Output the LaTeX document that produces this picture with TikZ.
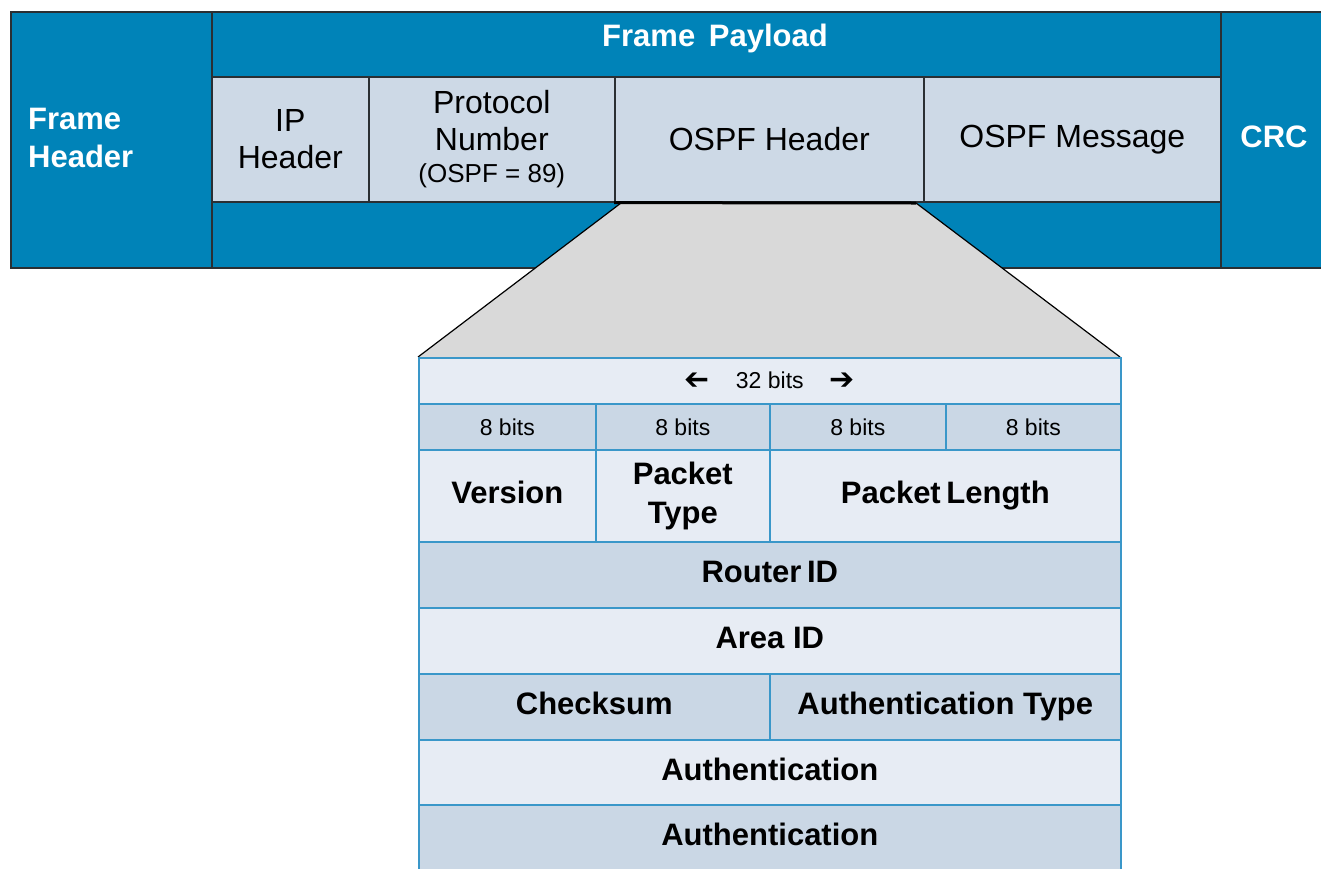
\documentclass[tikz,border=0pt]{standalone}
\usepackage{graphicx}
\usepackage{fontspec}
\setmainfont{Liberation Sans}
\newfontfamily\arrowfont{DejaVu Sans}
\definecolor{frameblue}{HTML}{0083B8}
\definecolor{paylight}{HTML}{CDD9E6}
\definecolor{rowlight}{HTML}{E7ECF4}
\definecolor{rowdark}{HTML}{CAD7E5}
\definecolor{gridblue}{HTML}{3A97C9}
\definecolor{zoomgray}{HTML}{D9D9D9}
\definecolor{edgegray}{HTML}{2A2F33}
\tikzset{
  wh/.style 2 args={minimum width=#1pt, minimum height=#2pt},
  fcell/.style={draw=edgegray, line width=1.6pt, inner sep=0pt, anchor=north west, align=center},
  tcell/.style={draw=gridblue, line width=1.6pt, inner sep=0pt, anchor=north west, align=center},
  reg/.style={font=\fontsize{32}{37}\selectfont},
  bld/.style={font=\fontsize{31}{38}\selectfont\bfseries},
  small/.style={font=\fontsize{23}{28}\selectfont},
  light/.style={fill=rowlight},
  dark/.style={fill=rowdark},
}
\newcommand{\rightbit}{\raisebox{-1pt}{\arrowfont\fontsize{30}{30}\selectfont ➔}}
\newcommand{\leftbit}{\reflectbox{\rightbit}}
% equal depth for one-line labels with and without descenders
\newcommand{\lbl}[1]{\vphantom{Ay}#1}
\begin{document}
\begin{tikzpicture}[x=1pt,y=-1pt]
\useasboundingbox (0,0) rectangle (1321,868);

% ---- Ethernet frame ----
\node[fcell, fill=frameblue, wh={201}{256}] (fh) at (10,11) {};
\node[fcell, fill=frameblue, wh={1009}{256}] (fp) at (211,11) {};
\node[fcell, fill=frameblue, wh={101}{256}] (crc) at (1220,11) {};
\node[bld, text=white, align=left, anchor=west, inner sep=0pt] (fhtext) at (28,138) {Frame\\Header};
\node[bld, text=white, inner sep=0pt] (fptext) at (715,38) {Frame\hspace{5pt} Payload};
\node[bld, text=white, inner sep=0pt] (crctext) at (1274,137) {CRC};

\node[fcell, fill=paylight, wh={157}{125}, reg] (iph) at (211,76) {IP\\Header};
\node[fcell, fill=paylight, wh={246}{125}, reg] (proto) at (368,76)
  {Protocol\\Number\\[-5pt]{\fontsize{26}{30}\selectfont (OSPF = 89)}};
\node[fcell, fill=paylight, wh={309}{125}, reg] (ospfh) at (614,76) {OSPF Header};
\node[fcell, fill=paylight, wh={297}{125}, reg] (ospfm) at (923,76) {OSPF Message};

% ---- zoom wedge from the OSPF Header cell down to the table ----
\coordinate (zl) at (621,203);
\coordinate (zr) at (916,203);
\coordinate (tl) at (418,357);
\coordinate (tr) at (1120,357);
\fill[zoomgray] (zl) -- (zr) -- (tr) -- (tl) -- cycle;
\draw[black, line width=1.2pt] (zl) -- (tl);
\draw[black, line width=1.2pt] (zr) -- (tr);
\draw[black, line width=3pt] (ospfh.south west) -- (zr);

% ---- OSPF header table ----
\node[tcell, light, wh={702}{46}, small] (r32) at (tl)
  {\leftbit\hspace{26pt}32 bits\hspace{26pt}\rightbit};

\node[tcell, dark, wh={177}{46}, small] (b1) at (418,403) {8 bits};
\node[tcell, dark, wh={174}{46}, small] (b2) at (595,403) {8 bits};
\node[tcell, dark, wh={176}{46}, small] (b3) at (769,403) {8 bits};
\node[tcell, dark, wh={175}{46}, small] (b4) at (945,403) {8 bits};

\node[tcell, light, wh={177}{92}, bld] (ver) at (418,449) {\lbl{Version}};
\node[tcell, light, wh={174}{92}, bld] (ptype) at (595,449) {Packet\\[1pt]Type};
\node[tcell, light, wh={351}{92}, bld] (plen) at (769,449) {\lbl{Packet\hspace{-3pt} Length}};

\node[tcell, dark, wh={702}{66}, bld] (rid) at (418,541) {\lbl{Router\hspace{-3pt} ID}};
\node[tcell, light, wh={702}{66}, bld] (aid) at (418,607) {\lbl{Area ID}};
\node[tcell, dark, wh={351}{66}, bld] (csum) at (418,673) {\lbl{Checksum}};
\node[tcell, dark, wh={351}{66}, bld] (atype) at (769,673) {\lbl{Authentication Type}};
\node[tcell, light, wh={702}{65}, bld] (auth1) at (418,739) {\lbl{Authentication}};
\node[tcell, dark, wh={702}{66}, bld] (auth2) at (418,804) {\lbl{Authentication}};
\end{tikzpicture}
\end{document}
